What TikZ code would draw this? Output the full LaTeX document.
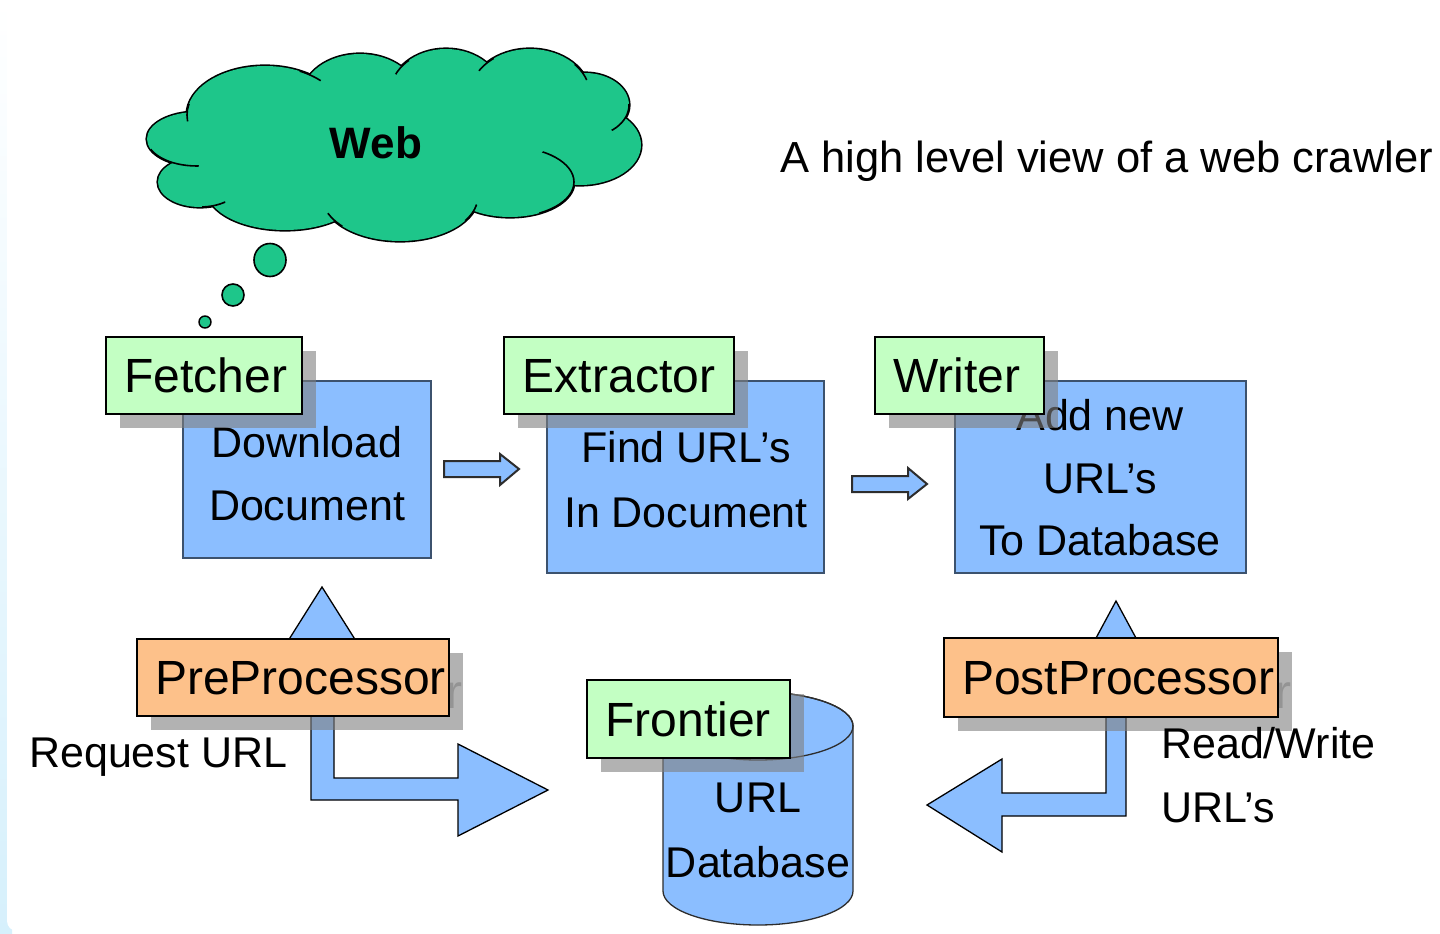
\documentclass[tikz,border=0pt]{standalone}
\usepackage{fontspec}
\setmainfont{Liberation Sans}
\definecolor{cloudg}{RGB}{30,198,138}
\definecolor{lblg}{RGB}{195,255,195}
\definecolor{lblo}{RGB}{253,193,138}
\definecolor{boxb}{RGB}{139,190,255}
\definecolor{boxedge}{RGB}{60,82,110}
\definecolor{arredge}{RGB}{45,45,45}
\definecolor{shadowc}{RGB}{128,128,128}
\definecolor{bgb}{RGB}{214,240,252}
\tikzset{
  bluebox/.style={draw=boxedge, line width=2, fill=boxb, inner sep=0},
  greenlbl/.style={draw=black, line width=1.5, fill=lblg, inner sep=0},
  orangelbl/.style={draw=black, line width=1.5, fill=lblo, inner sep=0},
  shadowbox/.style={fill=shadowc, fill opacity=0.6, draw=none, inner sep=0},
  bodytext/.style={font=\fontsize{43}{50}\selectfont, anchor=base, inner sep=0},
  lbltext/.style={font=\fontsize{48}{56}\selectfont, anchor=base, inner sep=0},
  ghosttext/.style={lbltext, text=shadowc, text opacity=0.6},
  blockarrow/.style={fill=boxb, draw=black, line width=1.3},
  smallarrow/.style={fill=boxb, draw=arredge, line width=2},
}
\begin{document}
\begin{tikzpicture}[x=1pt,y=-1pt]
\useasboundingbox (0,0) rectangle (1440,934);
% background
\fill[white] (0,0) rectangle (1440,934);
\shade[top color=white, bottom color=bgb] (0,0) rectangle (12,934);
\fill[white, rounded corners=10pt] (7,-30) rectangle (1480,931);

% cloud
\foreach \cx/\cy/\rx/\ry in {197/139/50/27, 200/182/42/25, 285/190/78/40, 400/196/78/45, 510/182/64/35, 580/145/61/40, 585/105/44/32, 530/95/60/46, 446/94/56/45, 360/97/58/43, 265/115/78/49}
  \draw[line width=3.2] (\cx,\cy) ellipse [x radius=\rx, y radius=\ry];
\foreach \cx/\cy/\rx/\ry in {197/139/50/27, 200/182/42/25, 285/190/78/40, 400/196/78/45, 510/182/64/35, 580/145/61/40, 585/105/44/32, 530/95/60/46, 446/94/56/45, 360/97/58/43, 265/115/78/49, 395/145/190/60}
  \fill[cloudg] (\cx,\cy) ellipse [x radius=\rx, y radius=\ry];
\foreach \cx/\cy/\rx/\ry/\jx/\jy/\r in {265/115/78/49/187/112.5/9, 197/139/50/27/173/163/26, 200/182/42/25/214/206/12, 400/196/78/45/334/221/10, 400/196/78/45/470/212/10, 510/182/64/35/574/184/45, 585/105/44/32/623/119/16, 530/95/60/46/581/72/10, 530/95/60/46/485/63/10, 446/94/56/45/401/66/10, 265/115/78/49/311/74/12}
{
  \begin{scope}
    \clip (\jx,\jy) circle [radius=\r];
    \draw[line width=1.6] (\cx,\cy) ellipse [x radius=\rx, y radius=\ry];
  \end{scope}
}
\node[font=\fontsize{44}{50}\selectfont\bfseries, anchor=base, inner sep=0] (web) at (376,158) {Web};
% thought bubbles
\draw[fill=cloudg, line width=1.6] (270,260) ellipse [x radius=16, y radius=16.5];
\draw[fill=cloudg, line width=1.6] (233,295) ellipse [x radius=11, y radius=11];
\draw[fill=cloudg, line width=1.4] (205,322) ellipse [x radius=6, y radius=6];

% title
\node[font=\fontsize{43.5}{50}\selectfont, anchor=base west, inner sep=0] (title) at (780,172) {A high level view of a web crawler};

% blue boxes
\node[bluebox, minimum width=248, minimum height=177] (dl) at (307,469.5) {};
\node[bodytext] (dl1) at (307,457) {Download};
\node[bodytext] (dl2) at (307,520) {Document};
\node[bluebox, minimum width=277, minimum height=192] (fu) at (685.5,477) {};
\node[bodytext] (fu1) at (686,462) {Find URL’s};
\node[bodytext] (fu2) at (686,527) {In Document};
\node[bluebox, minimum width=291, minimum height=192] (an) at (1100.5,477) {};
\node[bodytext] (an1) at (1100,430) {Add new};
\node[bodytext] (an2) at (1100,493) {URL’s};
\node[bodytext] (an3) at (1100,555) {To Database};

% small arrows between boxes
\draw[smallarrow] (444,461) -- (500,461) -- (500,454) -- (519,469) -- (500,485) -- (500,477) -- (444,477) -- cycle;
\draw[smallarrow] (852,476) -- (908,476) -- (908,468) -- (927,484) -- (908,499) -- (908,492) -- (852,492) -- cycle;

% up arrows
\draw[blockarrow] (322,587) -- (368,660) -- (276,660) -- cycle;
\draw[blockarrow] (1116,601) -- (1150,664) -- (1082,664) -- cycle;
% L arrows
\draw[blockarrow] (311,700) -- (311,800) -- (458,800) -- (458,836) -- (548,790) -- (458,744) -- (458,778) -- (334,778) -- (334,700) -- cycle;
\draw[blockarrow] (1126,700) -- (1126,816) -- (1002,816) -- (1002,852) -- (927,805) -- (1002,759) -- (1002,793) -- (1106,793) -- (1106,700) -- cycle;

% cylinder
\draw[fill=boxb, draw=arredge, line width=1.3] (663,726) -- (663,891) arc [start angle=180, end angle=0, x radius=95, y radius=34] -- (853,726) arc [start angle=0, end angle=-180, x radius=95, y radius=34] -- cycle;
\draw[draw=arredge, line width=1.3] (758,726) ellipse [x radius=95, y radius=34];
\coordinate (db) at (758,810);
\node[bodytext] (db1) at (758,812) {URL};
\node[bodytext] (db2) at (758,877) {Database};

% shadows
\node[shadowbox, minimum width=196, minimum height=77] (fe-sh) at (218,389.5) {};
\node[shadowbox, minimum width=230, minimum height=77] (ex-sh) at (633,389.5) {};
\node[shadowbox, minimum width=169, minimum height=77] (wr-sh) at (973.5,389.5) {};
\node[shadowbox, minimum width=312, minimum height=77] (pre-sh) at (307,691.5) {};
\node[ghosttext, anchor=base west] (pre-gh) at (446.5,708.5) {r};
\node[shadowbox, minimum width=334, minimum height=79] (post-sh) at (1125,691.5) {};
\node[ghosttext, anchor=base west] (post-gh) at (1275,708.5) {r};
\node[shadowbox, minimum width=203, minimum height=78] (fr-sh) at (702.5,733) {};

% labels
\node[greenlbl, minimum width=196, minimum height=77] (fe) at (204,375.5) {};
\node[lbltext] (fe-t) at (206,392.5) {Fetcher};
\node[greenlbl, minimum width=230, minimum height=77] (ex) at (619,375.5) {};
\node[lbltext] (ex-t) at (619,392.5) {Extractor};
\node[greenlbl, minimum width=169, minimum height=77] (wr) at (959.5,375.5) {};
\node[lbltext] (wr-t) at (957,392.5) {Writer};
\node[orangelbl, minimum width=312, minimum height=77] (pre) at (293,677.5) {};
\node[lbltext, anchor=base west] (pre-t) at (155,694.5) {PreProcessor};
\node[orangelbl, minimum width=334, minimum height=79] (post) at (1111,677.5) {};
\node[lbltext, anchor=base west] (post-t) at (962,694.5) {PostProcessor};
\node[greenlbl, minimum width=203, minimum height=78] (fr) at (688.5,719) {};
\node[lbltext] (fr-t) at (688,736) {Frontier};

% side texts
\node[bodytext, anchor=base west] (req) at (29,767) {Request URL};
\node[bodytext, anchor=base west] (rw1) at (1161,758) {Read/Write};
\node[bodytext, anchor=base west] (rw2) at (1161,822) {URL’s};
\end{tikzpicture}
\end{document}
